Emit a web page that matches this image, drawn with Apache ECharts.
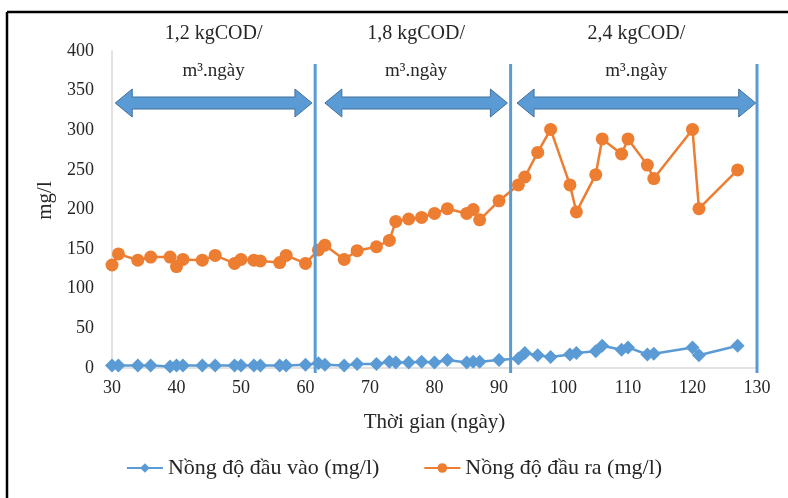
<!DOCTYPE html>
<html>
<head>
<meta charset="utf-8">
<script src="https://cdn.jsdelivr.net/npm/echarts@6/dist/echarts.min.js"></script>
<style>
html, body { margin: 0; padding: 0; background: #fff; }
#chart { width: 788px; height: 498px; }
</style>
</head>
<body>
<div id="chart"></div>
<script>
// ngày đo
var days = [30, 31, 34, 36, 39, 40, 41, 44, 46, 49, 50, 52, 53, 56, 57, 60,
            62, 63, 66, 68, 71, 73, 74, 76, 78, 80, 82, 85, 86, 87, 90,
            93, 94, 96, 98, 101, 102, 105, 106, 109, 110, 113, 114, 120, 121, 127];
var dauVao = [3, 3, 3, 3, 2, 3, 3, 3, 3, 3, 3, 3, 3, 3, 3, 4,
              6, 4, 3, 5, 5, 8, 7, 7, 8, 7, 10, 7, 8, 8, 10,
              12, 19, 16, 14, 17, 19, 21, 28, 23, 26, 17, 18, 26, 16, 28];
var dauRa = [130, 144, 136, 140, 140, 128, 137, 136, 142, 132, 137, 136, 135, 133, 142, 132,
             149, 155, 137, 148, 153, 161, 185, 188, 190, 195, 201, 195, 200, 187, 211,
             231, 241, 272, 301, 231, 197, 244, 289, 270, 289, 256, 239, 301, 201, 250];
var seriesNames = ['Nồng độ đầu vào (mg/l)', 'Nồng độ đầu ra (mg/l)'];
var xTicks = [30, 130, 10];
var yTicks = [0, 400, 50];

// giai đoạn tải trọng
var dividers = [61.5, 91.8, 130];
var arrowSpans = [[30.5, 61], [63, 91.3], [92.8, 129.8]];
var loadLabels = ['1,2 kgCOD/', '1,8 kgCOD/', '2,4 kgCOD/'];
var unitLabel = 'm³.ngày';

var font = 'Liberation Serif';
var myChart = echarts.init(document.getElementById('chart'));

function pairs(xs, ys) {
    var out = [];
    for (var i = 0; i < xs.length; i++) out.push([xs[i], ys[i]]);
    return out;
}

var option = {
    animation: false,
    backgroundColor: '#fff',
    grid: { left: 112, right: 31, top: 51, bottom: 130 },
    legend: {
        bottom: 14,
        left: 'center',
        itemWidth: 36,
        itemHeight: 12,
        itemGap: 44,
        textStyle: { fontFamily: font, fontSize: 22, color: '#262626' },
        data: seriesNames
    },
    xAxis: {
        type: 'value',
        min: xTicks[0], max: xTicks[1], interval: xTicks[2],
        name: 'Thời gian (ngày)',
        nameLocation: 'middle',
        nameGap: 44,
        nameTextStyle: { fontFamily: font, fontSize: 21, color: '#262626' },
        axisLine: { lineStyle: { color: '#d9d9d9', width: 1.5 } },
        axisTick: { show: false },
        splitLine: { show: false },
        axisLabel: { fontFamily: font, fontSize: 18, color: '#262626', margin: 11 }
    },
    yAxis: {
        type: 'value',
        min: yTicks[0], max: yTicks[1], interval: yTicks[2],
        name: 'mg/l',
        nameLocation: 'middle',
        nameRotate: 90,
        nameGap: 56,
        nameTextStyle: { fontFamily: font, fontSize: 21, color: '#262626', padding: [0, 0, 0, 18] },
        axisLine: { show: true, lineStyle: { color: '#d9d9d9', width: 1.5 } },
        axisTick: { show: false },
        splitLine: { show: false },
        axisLabel: { fontFamily: font, fontSize: 18, color: '#262626', margin: 18 }
    },
    series: [
        {
            name: seriesNames[0],
            type: 'line',
            data: pairs(days, dauVao),
            symbol: 'diamond',
            symbolSize: 14,
            z: 3,
            lineStyle: { color: '#5b9bd5', width: 2.5 },
            itemStyle: { color: '#5b9bd5' }
        },
        {
            name: seriesNames[1],
            type: 'line',
            data: pairs(days, dauRa),
            symbol: 'circle',
            symbolSize: 13,
            z: 3,
            lineStyle: { color: '#ed7d31', width: 2.5 },
            itemStyle: { color: '#ed7d31' }
        }
    ]
};
myChart.setOption(option);

// vạch chia, mũi tên, nhãn tải trọng
var g = [];
var px = function (x, y) { return myChart.convertToPixel({ gridIndex: 0 }, [x, y]); };
var gridTop = px(30, 400)[1];
var gridBottom = px(30, 0)[1];

dividers.forEach(function (d) {
    var x = px(d, 0)[0];
    g.push({
        type: 'line', z: 10,
        shape: { x1: x, y1: gridTop + 13, x2: x, y2: gridBottom + 5 },
        style: { stroke: '#5b9bd5', lineWidth: 3 }
    });
});

arrowSpans.forEach(function (s, i) {
    var x1 = px(s[0], 0)[0], x2 = px(s[1], 0)[0];
    var cy = gridTop + 52, hl = 17, hh = 14, sh = 6;
    g.push({
        type: 'polygon', z: 10,
        shape: { points: [[x1, cy], [x1 + hl, cy - hh], [x1 + hl, cy - sh], [x2 - hl, cy - sh],
                          [x2 - hl, cy - hh], [x2, cy], [x2 - hl, cy + hh], [x2 - hl, cy + sh],
                          [x1 + hl, cy + sh], [x1 + hl, cy + hh]] },
        style: { fill: '#5b9bd5', stroke: '#41719c', lineWidth: 1 }
    });
    var cx = (x1 + x2) / 2;
    g.push({
        type: 'text', z: 11, x: cx, y: gridTop - 17,
        style: { text: loadLabels[i], font: '20px "' + font + '"', fill: '#262626', align: 'center', verticalAlign: 'middle' }
    });
    g.push({
        type: 'text', z: 11, x: cx, y: gridTop + 20,
        style: { text: unitLabel, font: '19px "' + font + '"', fill: '#262626', align: 'center', verticalAlign: 'middle' }
    });
});

// khung đen
g.push({ type: 'line', z: 20, shape: { x1: 7, y1: 12, x2: 7, y2: 498 }, style: { stroke: '#000', lineWidth: 2.5 } });
g.push({ type: 'line', z: 20, shape: { x1: 7, y1: 12, x2: 788, y2: 12 }, style: { stroke: '#000', lineWidth: 2.5 } });

myChart.setOption({ graphic: g });
</script>
</body>
</html>
